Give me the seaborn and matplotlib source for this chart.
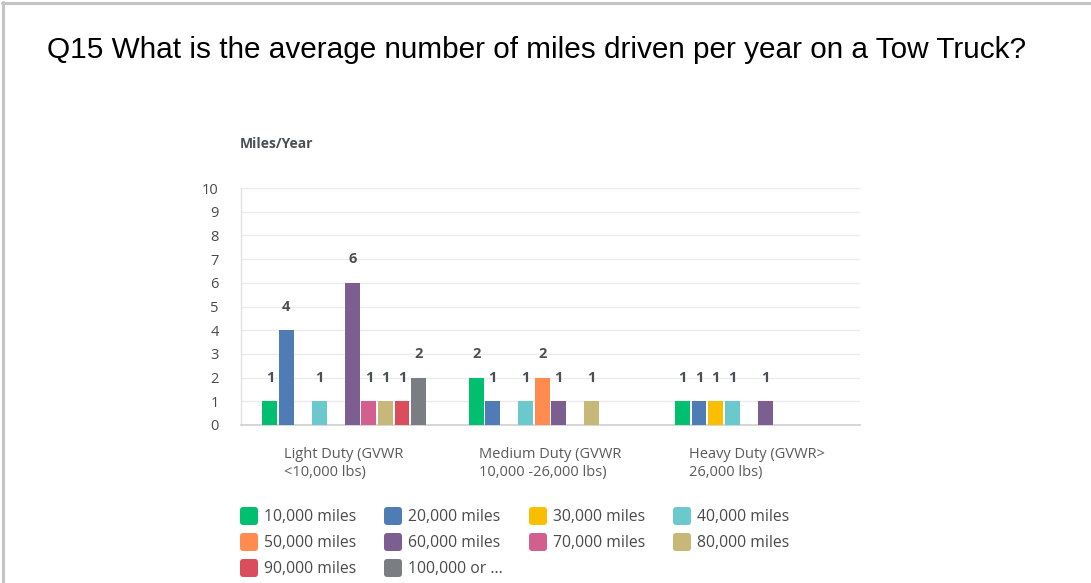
import numpy as np
import pandas as pd
import matplotlib
matplotlib.use("Agg")
import matplotlib.pyplot as plt
from matplotlib.patches import FancyBboxPatch
from matplotlib.lines import Line2D
import seaborn as sns

# Survey answers: count of respondents per mileage bracket for each truck class
categories = ["Light Duty (GVWR\n<10,000 lbs)",
              "Medium Duty (GVWR\n10,000 -26,000 lbs)",
              "Heavy Duty (GVWR>\n26,000 lbs)"]
series = ["10,000 miles", "20,000 miles", "30,000 miles", "40,000 miles",
          "50,000 miles", "60,000 miles", "70,000 miles", "80,000 miles",
          "90,000 miles", "100,000 or ..."]
light_duty = [1, 4, 0, 1, 0, 6, 1, 1, 1, 2]
medium_duty = [2, 1, 0, 1, 2, 1, 0, 1, 0, 0]
heavy_duty = [1, 1, 1, 1, 0, 1, 0, 0, 0, 0]
y_ticks = list(range(0, 11))

colors = ["#00BF6F", "#507CB6", "#F9BE00", "#6BC8CD", "#FF8B4F",
          "#7D5E90", "#D25F90", "#C7B879", "#DB4D5C", "#7A7D81"]

rows = []
for cat, vals in zip(categories, [light_duty, medium_duty, heavy_duty]):
    for s, v in zip(series, vals):
        rows.append({"category": cat, "series": s, "count": v})
df = pd.DataFrame(rows)

sns.set_style("white")
plt.rcParams["font.family"] = ["Open Sans", "DejaVu Sans"]

fig = plt.figure(figsize=(10.91, 5.83), dpi=100)
ax = fig.add_axes([241 / 1091, 158 / 583, 619 / 1091, 237 / 583])

sns.barplot(data=df, x="category", y="count", hue="series",
            order=categories, hue_order=series, palette=colors, saturation=1,
            width=0.8, gap=0.1, dodge=True, legend=False, ax=ax,
            edgecolor="none", linewidth=0, errorbar=None, zorder=3)

ax.set_xlim(-0.5, 2.5)
ax.set_ylim(0, 10)
ax.set_yticks(y_ticks)
ax.set_xlabel("")
ax.set_ylabel("")
ax.yaxis.grid(True, color="#ebebeb", linewidth=1.0, zorder=0)
ax.xaxis.grid(False)
ax.set_axisbelow(True)
for side in ("top", "right"):
    ax.spines[side].set_visible(False)
ax.spines["left"].set_color("#e2e2e2")
ax.spines["left"].set_linewidth(1.0)
ax.spines["bottom"].set_color("#cfcfcf")
ax.spines["bottom"].set_linewidth(1.2)

ax.tick_params(axis="y", length=0, pad=16, labelsize=10.5, labelcolor="#4a4a4a")
ax.tick_params(axis="x", length=0, pad=15.5, labelsize=10.5, labelcolor="#5a5a5a")
for lbl in ax.get_xticklabels():
    lbl.set_multialignment("left")
    lbl.set_linespacing(1.35)

# value labels above each non-zero bar
for cont, s in zip(ax.containers, series):
    labels = []
    for bar in cont:
        h = bar.get_height()
        labels.append(f"{int(h)}" if h > 0 else "")
    ax.bar_label(cont, labels=labels, padding=12, fontsize=10.5,
                 fontweight="bold", color="#4a4f55")

fig.text(240 / 1091, 1 - 144 / 583, "Miles/Year", fontsize=10, fontweight="bold",
         color="#4a4f55", ha="left", va="center")

fig.text(47 / 1091, 1 - 50 / 583,
         "Q15 What is the average number of miles driven per year on a Tow Truck?",
         family=["Liberation Sans", "DejaVu Sans"], fontsize=21.4, color="#000000",
         ha="left", va="center")

# legend: 4 columns x 3 rows of rounded swatches
col_x = [240, 384, 529, 673]
row_y = [516, 542, 568]
W, H = 1091, 583
sw = 18
for i, (s, c) in enumerate(zip(series, colors)):
    cx = col_x[i % 4]
    cy = row_y[i // 4]
    patch = FancyBboxPatch(((cx) / W, 1 - (cy + sw / 2) / H), sw / W, sw / H,
                           boxstyle="round,pad=0,rounding_size=0.003",
                           transform=fig.transFigure, facecolor=c,
                           edgecolor="none", mutation_aspect=W / H)
    fig.patches.append(patch)
    fig.text((cx + 24) / W, 1 - (cy + 1) / H, s, fontsize=11.3, color="#4a4a4a",
             ha="left", va="center")

# frame lines along the top and left edges
fig.add_artist(Line2D([2 / W, 1.0], [1 - 2.5 / H, 1 - 2.5 / H],
                      transform=fig.transFigure, color="#c4c4c4", linewidth=2.2))
fig.add_artist(Line2D([3 / W, 3 / W], [1 - 1.5 / H, 0.0],
                      transform=fig.transFigure, color="#c4c4c4", linewidth=2.2))

fig.savefig("out.png", dpi=100, facecolor="white")
